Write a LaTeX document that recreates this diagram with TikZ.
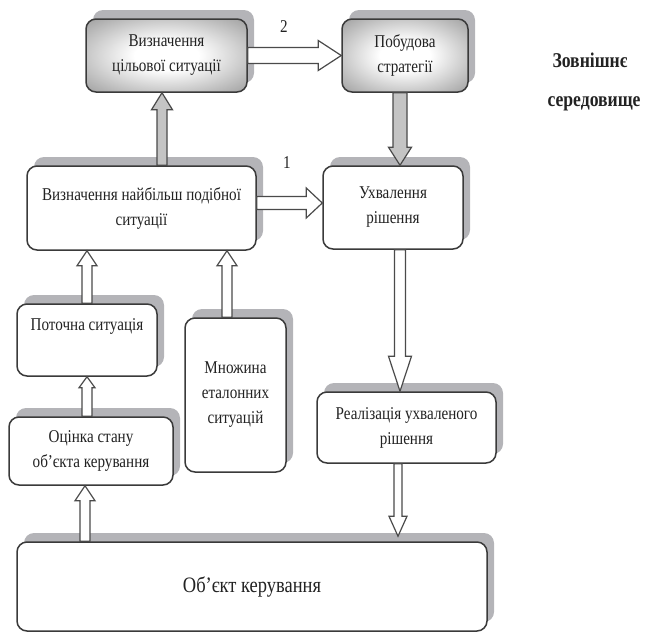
\documentclass[tikz,border=0pt]{standalone}
\usepackage{fontspec}
\setmainfont{Liberation Serif}[FakeStretch=0.84]
\usetikzlibrary{calc,shadows}

\definecolor{boxline}{HTML}{3A3A3A}
\definecolor{textgrey}{HTML}{222222}
\definecolor{shadowgrey}{HTML}{B4B4B8}
\definecolor{arrowline}{HTML}{4A4A4A}
\definecolor{arrowfill}{HTML}{C4C4C4}
\definecolor{glowmid}{HTML}{B4B4B4}
\definecolor{glowdark}{HTML}{727272}
\definecolor{glowedge}{HTML}{5C5C5C}

\pgfdeclareradialshading{boxglow}{\pgfpoint{0bp}{0bp}}{color(0bp)=(white); color(10bp)=(white); color(30bp)=(glowmid); color(48bp)=(glowdark); color(72bp)=(glowedge)}

\tikzset{
  boxfont/.style={text=textgrey, font=\fontsize{18}{25}\selectfont},
  box/.style={boxfont, draw=boxline, line width=1.5pt, rounded corners=10pt, fill=white, align=center, inner sep=4pt,
    drop shadow={shadow xshift=7pt, shadow yshift=9pt, fill=shadowgrey, opacity=1}},
  darkbox/.style={box, shading=boxglow},
  arrowwhite/.style={draw=arrowline, line width=1.2pt, fill=white},
  arrowgrey/.style={draw=arrowline, line width=1.2pt, fill=arrowfill},
}

% block arrow: [style]{start}{tip}{shaft half width}{head half width}{head length}
\newcommand{\blockarrow}[6][arrowwhite]{%
  \coordinate (ba-b) at ($(#3)!#6!(#2)$);
  \draw[#1] ($(#2)!#4!90:(#3)$) -- ($(ba-b)!#4!-90:(#2)$) -- ($(ba-b)!#5!-90:(#2)$) -- (#3)
    -- ($(ba-b)!#5!90:(#2)$) -- ($(ba-b)!#4!90:(#2)$) -- ($(#2)!#4!-90:(#3)$) -- cycle;
}

\begin{document}
\begin{tikzpicture}[x=1pt,y=-1pt]
    \useasboundingbox (0,0) rectangle (659,633);

    \node[darkbox, minimum width=161pt, minimum height=73pt] (tsil) at (166.5,55.5) {Визначення\\цільової ситуації};
    \node[darkbox, minimum width=126pt, minimum height=73pt] (strat) at (405,55.5) {Побудова\\стратегії};
    \node[box, minimum width=229pt, minimum height=84pt] (podib) at (141.5,208) {Визначення найбільш подібної\\ситуації};
    \node[box, minimum width=140pt, minimum height=83pt] (ukhv) at (393,207.5) {Ухвалення\\рішення};
    \node[box, minimum width=140pt, minimum height=72pt,
        label={[boxfont, anchor=center, yshift=-23pt]north:Поточна ситуація}] (potoch) at (87,340) {};
    \node[box, minimum width=101pt, minimum height=154pt] (mnozh) at (235.5,395) {Множина\\еталонних\\ситуацій};
    \node[box, minimum width=164pt, minimum height=68pt] (otsin) at (91,451) {Оцінка стану\\об’єкта керування};
    \node[box, minimum width=179pt, minimum height=71pt] (realiz) at (406.5,427.5) {Реалізація ухваленого\\рішення};
    \node[box, minimum width=470pt, minimum height=89pt, font=\fontsize{22}{25}\selectfont] (obiekt) at (252,586.5) {Об’єкт керування};

    \node[text=textgrey, font=\bfseries\fontsize{21}{24}\selectfont, anchor=west] (zovn) at (549,60) {Зовнішнє};
    \node[text=textgrey, font=\bfseries\fontsize{21}{24}\selectfont, anchor=west] (sered) at (544,104) {середовище};
    \node[boxfont] (num2) at (284,27) {2};
    \node[boxfont] (num1) at (287,163) {1};

    \coordinate (aa) at ([xshift=-4.5pt]tsil.south);
    \coordinate (ac) at ([yshift=5pt]podib.east);
    \coordinate (ad) at ([xshift=-5pt]strat.south);
    \coordinate (ae) at ([xshift=7pt]ukhv.south);
    \coordinate (af) at ([xshift=-8.5pt]realiz.south);
    \coordinate (ag) at ([xshift=-6pt]otsin.south);
    \coordinate (aj) at ([xshift=-8.5pt]mnozh.north);

    \blockarrow[arrowgrey]{aa |- podib.north}{aa}{5pt}{10.5pt}{17pt}
    \blockarrow{tsil.east}{strat.west}{8pt}{15pt}{23pt}
    \blockarrow{ac}{ac -| ukhv.west}{6.5pt}{15pt}{16pt}
    \blockarrow[arrowgrey]{ad}{ad |- ukhv.north}{7pt}{11.5pt}{18pt}
    \blockarrow{ae}{ae |- realiz.north}{5.5pt}{11.5pt}{35pt}
    \blockarrow{af}{[yshift=5pt]af |- obiekt.north}{4pt}{9pt}{20pt}
    \blockarrow{ag |- obiekt.north}{ag}{5pt}{10pt}{15pt}
    \blockarrow{otsin.north -| potoch.south}{potoch.south}{5pt}{8pt}{11pt}
    \blockarrow{potoch.north}{potoch.north |- podib.south}{5pt}{10pt}{15pt}
    \blockarrow{aj}{aj |- podib.south}{5pt}{10pt}{15pt}
\end{tikzpicture}
\end{document}
